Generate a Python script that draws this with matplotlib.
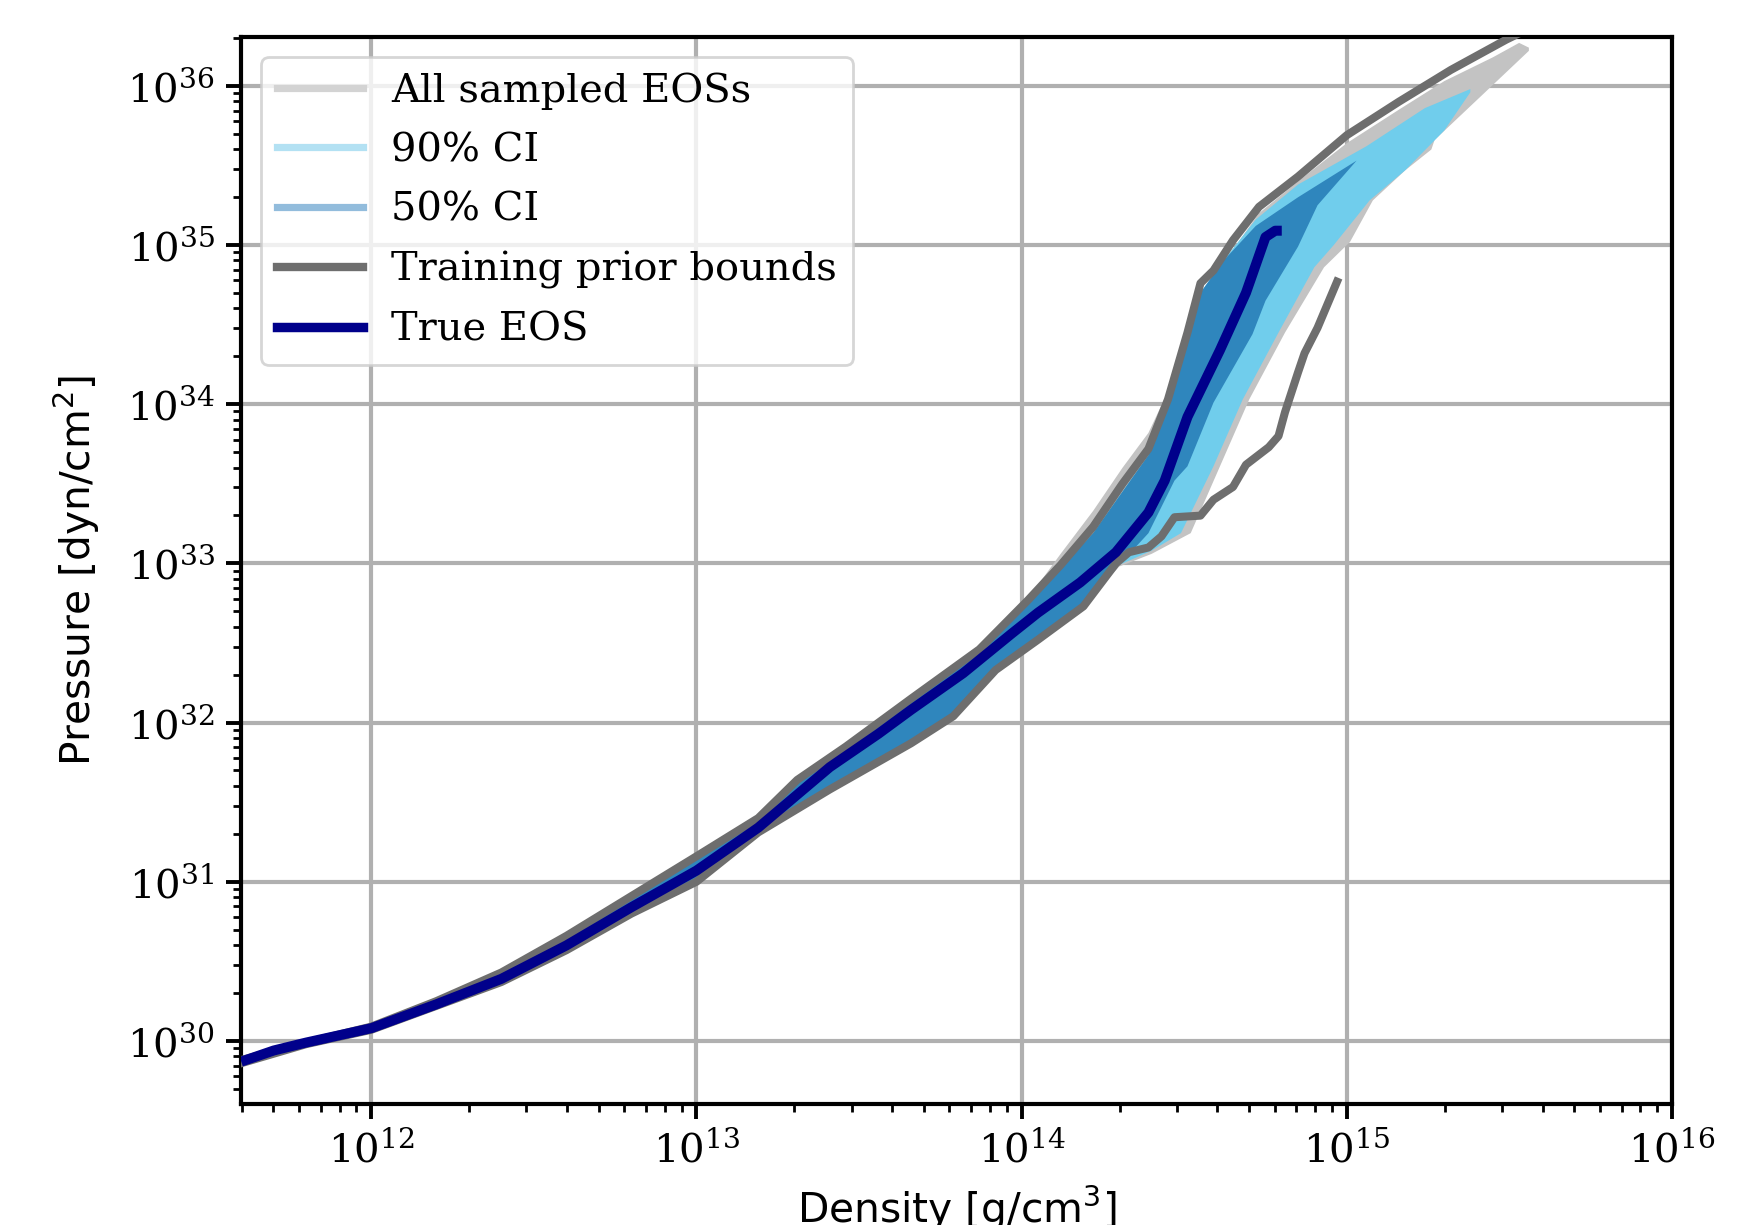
import numpy as np
import matplotlib
matplotlib.use("Agg")
import matplotlib.pyplot as plt
from matplotlib.lines import Line2D
from matplotlib.ticker import LogLocator, NullFormatter

# all values are log10(density [g/cm^3]) and log10(pressure [dyn/cm^2])

# true EOS
true_logrho = [11.60, 11.70, 11.80, 12.00, 12.20, 12.40, 12.60, 12.80, 13.00, 13.19, 13.41, 13.56,
               13.66, 13.82, 13.97, 14.05, 14.18, 14.29, 14.39, 14.44, 14.51, 14.61, 14.69, 14.75,
               14.78, 14.80]
true_logp = [29.87, 29.94, 29.99, 30.08, 30.23, 30.39, 30.60, 30.84, 31.07, 31.34, 31.72, 31.93,
             32.08, 32.31, 32.56, 32.69, 32.88, 33.07, 33.32, 33.52, 33.92, 34.34, 34.70, 35.05,
             35.09, 35.09]

# training prior bounds
prior_hi_logrho = [11.60, 11.80, 12.00, 12.20, 12.40, 12.60, 12.80, 13.00, 13.19, 13.31, 13.46, 13.66,
                   13.87, 14.02, 14.12, 14.22, 14.31, 14.39, 14.45, 14.51, 14.55, 14.59, 14.65, 14.73,
                   14.85, 15.00, 15.16, 15.32, 15.49, 15.60]
prior_hi_logp = [29.88, 29.99, 30.09, 30.25, 30.43, 30.66, 30.91, 31.16, 31.40, 31.64, 31.85, 32.15,
                 32.46, 32.77, 32.99, 33.23, 33.50, 33.72, 34.03, 34.45, 34.76, 34.84, 35.03, 35.24,
                 35.43, 35.69, 35.90, 36.10, 36.29, 36.40]
prior_lo_logrho = [11.60, 11.80, 12.00, 12.20, 12.40, 12.60, 12.80, 13.00, 13.19, 13.41, 13.66, 13.79,
                   13.92, 14.05, 14.19, 14.29, 14.33, 14.39, 14.43, 14.47, 14.55, 14.59, 14.65, 14.69,
                   14.76, 14.79, 14.81, 14.85, 14.87, 14.91, 14.97]
prior_lo_logp = [29.86, 29.98, 30.07, 30.22, 30.37, 30.57, 30.80, 31.00, 31.31, 31.58, 31.87, 32.04,
                 32.33, 32.52, 32.73, 33.00, 33.07, 33.10, 33.17, 33.29, 33.30, 33.40, 33.48, 33.62,
                 33.73, 33.80, 33.95, 34.20, 34.32, 34.48, 34.77]

# envelope of all sampled EOSs
samp_hi_logrho = [11.60, 11.80, 12.00, 12.20, 12.40, 12.60, 12.80, 13.00, 13.19, 13.31, 13.46, 13.66,
                  13.87, 14.02, 14.12, 14.22, 14.31, 14.39, 14.45, 14.51, 14.59, 14.73, 14.85, 15.00,
                  15.16, 15.30, 15.45, 15.53, 15.56]
samp_hi_logp = [29.88, 29.99, 30.09, 30.25, 30.43, 30.66, 30.91, 31.16, 31.39, 31.63, 31.84, 32.14,
                32.45, 32.78, 33.06, 33.33, 33.60, 33.82, 34.08, 34.45, 34.80, 35.20, 35.40, 35.64,
                35.85, 36.03, 36.18, 36.27, 36.24]
samp_lo_logrho = [11.60, 11.80, 12.00, 12.20, 12.40, 12.60, 12.80, 13.00, 13.19, 13.41, 13.66, 13.79,
                  13.92, 14.05, 14.19, 14.30, 14.40, 14.52, 14.61, 14.70, 14.81, 14.93, 15.01, 15.08,
                  15.18, 15.26, 15.27, 15.41, 15.56]
samp_lo_logp = [29.86, 29.98, 30.07, 30.22, 30.37, 30.57, 30.80, 31.00, 31.31, 31.58, 31.87, 32.04,
                32.33, 32.52, 32.73, 32.98, 33.06, 33.19, 33.61, 34.03, 34.45, 34.86, 35.02, 35.28,
                35.47, 35.60, 35.66, 35.93, 36.22]

# 90% credible interval
ci90_hi_logrho = [11.60, 11.80, 12.00, 12.20, 12.40, 12.60, 12.80, 13.00, 13.19, 13.31, 13.46, 13.66,
                  13.87, 14.02, 14.12, 14.22, 14.31, 14.39, 14.45, 14.51, 14.55, 14.62, 14.72, 14.85,
                  15.06, 15.24, 15.38]
ci90_hi_logp = [29.87, 29.98, 30.08, 30.24, 30.42, 30.65, 30.90, 31.15, 31.38, 31.62, 31.83, 32.13,
                32.44, 32.75, 32.97, 33.19, 33.45, 33.68, 34.00, 34.40, 34.70, 34.90, 35.16, 35.38,
                35.62, 35.86, 35.98]
ci90_lo_logrho = [11.60, 11.80, 12.00, 12.20, 12.40, 12.60, 12.80, 13.00, 13.19, 13.41, 13.66, 13.79,
                  13.92, 14.05, 14.19, 14.30, 14.40, 14.49, 14.59, 14.68, 14.79, 14.90, 14.96, 15.07,
                  15.18, 15.30, 15.38]
ci90_lo_logp = [29.87, 29.99, 30.08, 30.23, 30.38, 30.58, 30.81, 31.01, 31.32, 31.59, 31.88, 32.05,
                32.34, 32.53, 32.75, 32.99, 33.08, 33.19, 33.61, 34.03, 34.45, 34.86, 35.00, 35.28,
                35.47, 35.72, 35.96]

# 50% credible interval
ci50_hi_logrho = [11.60, 11.80, 12.00, 12.20, 12.40, 12.60, 12.80, 13.00, 13.19, 13.31, 13.46, 13.66,
                  13.87, 14.02, 14.12, 14.22, 14.31, 14.39, 14.45, 14.51, 14.55, 14.62, 14.72, 14.85,
                  15.03]
ci50_hi_logp = [29.87, 29.98, 30.08, 30.24, 30.42, 30.65, 30.90, 31.15, 31.38, 31.62, 31.83, 32.13,
                32.44, 32.75, 32.97, 33.19, 33.45, 33.68, 34.00, 34.40, 34.70, 34.90, 35.12, 35.30,
                35.53]
ci50_lo_logrho = [11.60, 11.80, 12.00, 12.20, 12.40, 12.60, 12.80, 13.00, 13.19, 13.41, 13.66, 13.79,
                  13.92, 14.05, 14.19, 14.30, 14.39, 14.47, 14.51, 14.59, 14.71, 14.75, 14.85, 14.91,
                  15.03]
ci50_lo_logp = [29.87, 29.99, 30.08, 30.23, 30.38, 30.58, 30.81, 31.01, 31.32, 31.59, 31.88, 32.05,
                32.34, 32.53, 32.75, 32.99, 33.19, 33.52, 33.61, 34.01, 34.44, 34.65, 34.99, 35.25,
                35.53]

legend_labels = ["All sampled EOSs", "90% CI", "50% CI", "Training prior bounds", "True EOS"]

plt.rcParams['font.family'] = 'DejaVu Serif'
plt.rcParams['mathtext.fontset'] = 'dejavusans'


def band(ax, hi_x, hi_y, lo_x, lo_y, color, z):
    xs = np.concatenate([hi_x, lo_x[::-1]])
    ys = np.concatenate([hi_y, lo_y[::-1]])
    ax.fill(10.0 ** xs, 10.0 ** ys, color=color, lw=0, zorder=z)


fig = plt.figure(figsize=(8.74, 6.125), dpi=200)
ax = fig.add_axes([0.138, 0.0988, 0.8185, 0.8714])
ax.set_xscale('log')
ax.set_yscale('log')

band(ax, samp_hi_logrho, samp_hi_logp, samp_lo_logrho, samp_lo_logp, '#c3c3c3', 2)
band(ax, ci90_hi_logrho, ci90_hi_logp, ci90_lo_logrho, ci90_lo_logp, '#70cdec', 3)
band(ax, ci50_hi_logrho, ci50_hi_logp, ci50_lo_logrho, ci50_lo_logp, '#2f86bd', 4)

ax.plot(10.0 ** np.array(prior_hi_logrho), 10.0 ** np.array(prior_hi_logp), color='#6e6e6e', lw=2.9, zorder=5)
ax.plot(10.0 ** np.array(prior_lo_logrho), 10.0 ** np.array(prior_lo_logp), color='#6e6e6e', lw=2.9, zorder=5)
ax.plot(10.0 ** np.array(true_logrho), 10.0 ** np.array(true_logp), color='#00008b', lw=3.6, zorder=6,
        solid_capstyle='butt')

ax.set_xlim(10 ** 11.6, 1e16)
ax.set_ylim(10 ** 29.604, 10 ** 36.31)

ax.xaxis.set_major_locator(LogLocator(base=10, numticks=100))
ax.yaxis.set_major_locator(LogLocator(base=10, numticks=100))
ax.xaxis.set_minor_locator(LogLocator(base=10, subs=np.arange(2, 10), numticks=100))
ax.yaxis.set_minor_locator(LogLocator(base=10, subs=np.arange(2, 10), numticks=100))
ax.xaxis.set_minor_formatter(NullFormatter())
ax.yaxis.set_minor_formatter(NullFormatter())

ax.set_axisbelow(True)
ax.grid(True, which='major', color='#b0b0b0', lw=1.5)
ax.tick_params(which='major', length=5.5, width=1.4, labelsize=14.5, pad=4)
ax.tick_params(which='minor', length=3, width=1.0)
for sp in ax.spines.values():
    sp.set_linewidth(1.5)

ax.set_xlabel('Density [g/cm$^3$]', family='DejaVu Sans', fontsize=14.7, labelpad=5)
ax.set_ylabel('Pressure [dyn/cm$^2$]', family='DejaVu Sans', fontsize=14.7, labelpad=9)

handles = [Line2D([], [], color='#d3d3d3', lw=2.6),
           Line2D([], [], color='#b3e1f3', lw=2.6),
           Line2D([], [], color='#92bcdc', lw=2.6),
           Line2D([], [], color='#6e6e6e', lw=3.0),
           Line2D([], [], color='#00008b', lw=3.4)]
ax.legend(handles, legend_labels, loc='upper left', fontsize=14.4, handlelength=2.15,
          handletextpad=0.7, labelspacing=0.56, framealpha=0.8)

fig.savefig('out.png', dpi=200)
